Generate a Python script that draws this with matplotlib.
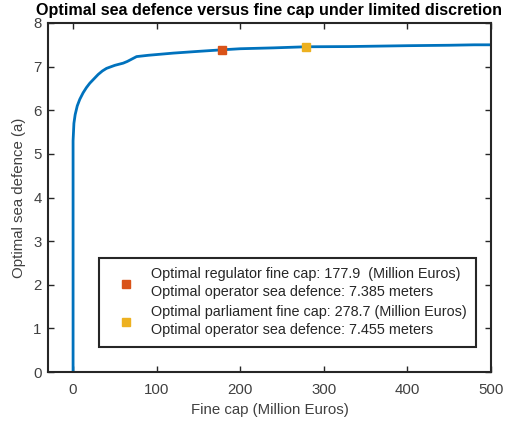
import numpy as np
import matplotlib
matplotlib.use("Agg")
import matplotlib.pyplot as plt

plt.rcParams["font.family"] = ["Liberation Sans", "DejaVu Sans"]

# optimal sea defence (m) as a function of the fine cap (million euros)
fine_cap = [0, 0, 1, 2.5, 5, 8, 12, 16, 20, 25, 30, 35, 40, 50, 60, 65, 70, 76,
            90, 120, 150, 177.9, 200, 240, 278.7, 330, 400, 450, 480, 500]
sea_defence = [0, 5.3, 5.7, 5.9, 6.1, 6.25, 6.4, 6.52, 6.62, 6.72, 6.82, 6.9, 6.96,
               7.03, 7.08, 7.12, 7.17, 7.23, 7.26, 7.31, 7.35, 7.385, 7.41, 7.43,
               7.455, 7.46, 7.48, 7.49, 7.5, 7.5]

regulator_cap, regulator_defence = 177.9, 7.385
parliament_cap, parliament_defence = 278.7, 7.455

blue, orange, yellow = "#0072BD", "#D95319", "#EDB120"
grey = "#262626"

fig = plt.figure(figsize=(5.06, 4.28), dpi=100)
ax = fig.add_axes([48 / 506, 1 - 372 / 428, 443 / 506, 349 / 428])

ax.plot(fine_cap, sea_defence, color=blue, lw=2)
h1, = ax.plot([regulator_cap], [regulator_defence], "s", color=orange, ms=5.5,
              label=f"Optimal regulator fine cap: {regulator_cap}  (Million Euros)\n"
                    f"Optimal operator sea defence: {regulator_defence} meters")
h2, = ax.plot([parliament_cap], [parliament_defence], "s", color=yellow, ms=5.5,
              label=f"Optimal parliament fine cap: {parliament_cap} (Million Euros)\n"
                    f"Optimal operator sea defence: {parliament_defence} meters")

ax.set_xlim(-30, 500)
ax.set_ylim(0, 8)
ax.set_xticks(np.arange(0, 501, 100))
ax.set_yticks(np.arange(0, 9, 1))
ax.tick_params(direction="in", top=True, right=True, length=4, width=1,
               labelsize=10.8, colors=grey, labelcolor="#404040")
ax.tick_params(axis="x", pad=8)
ax.tick_params(axis="y", pad=4.5)
for s in ax.spines.values():
    s.set_linewidth(1.5)
    s.set_color(grey)

ax.set_xlabel("Fine cap (Million Euros)", fontsize=10.8, color="#404040", labelpad=4)
ax.set_ylabel("Optimal sea defence (a)", fontsize=10.8, color="#404040", labelpad=5)
ax.set_title("Optimal sea defence versus fine cap under limited discretion",
             fontsize=11.6, fontweight="bold", pad=6)

leg = ax.legend(handles=[h1, h2], loc="lower left", bbox_to_anchor=(0.115, 0.072),
                borderaxespad=0, fancybox=False, fontsize=10.4, framealpha=1,
                handlelength=2.4, labelspacing=0.4, borderpad=0.65, handletextpad=0.55)
leg.get_frame().set_edgecolor(grey)
leg.get_frame().set_linewidth(1.5)
for t in leg.get_texts():
    t.set_color(grey)
    t.set_linespacing(1.4)

fig.savefig("out.png", dpi=100)
